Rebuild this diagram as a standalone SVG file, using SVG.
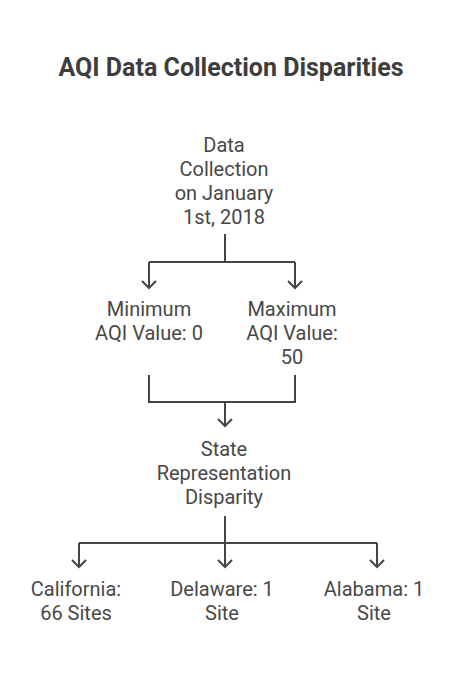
<svg xmlns="http://www.w3.org/2000/svg" width="462" height="674" viewBox="0 0 462 674">
<style>
.t{font-family:Roboto,"Liberation Sans",sans-serif;font-size:20px;fill:#484848;text-anchor:middle}
.h{font-family:Roboto,"Liberation Sans",sans-serif;font-size:25px;font-weight:bold;fill:#3d3d3d;text-anchor:middle}
.c{fill:none;stroke:#454545;stroke-width:2;stroke-linejoin:miter}
.a{fill:none;stroke:#454545;stroke-width:2}
</style>
<rect width="462" height="674" fill="#ffffff"/>
<text class="h" x="231" y="76">AQI Data Collection Disparities</text>
<g id="connectors">
<path class="c" d="M225 234V262M149 262H295M149 262V288M295 262V288"/>
<path class="a" d="M142 281L149 288L156 281M288 281L295 288L302 281"/>
<path class="c" d="M149 375V402H295V375M225 402V426"/>
<path class="a" d="M218 419L225 426L232 419"/>
<path class="c" d="M225 516V543M79 543H377M79 543V567M225 543V567M377 543V567"/>
<path class="a" d="M72 560L79 567L86 560M218 560L225 567L232 560M370 560L377 567L384 560"/>
</g>
<g id="data-collection">
<text class="t" x="224" y="152">Data</text>
<text class="t" x="224" y="176">Collection</text>
<text class="t" x="224" y="200">on January</text>
<text class="t" x="224" y="224">1st, 2018</text>
</g>
<g id="minimum">
<text class="t" x="149" y="316">Minimum</text>
<text class="t" x="149" y="340">AQI Value: 0</text>
</g>
<g id="maximum">
<text class="t" x="292" y="316">Maximum</text>
<text class="t" x="292" y="340">AQI Value:</text>
<text class="t" x="292" y="364">50</text>
</g>
<g id="state">
<text class="t" x="224" y="456">State</text>
<text class="t" x="224" y="480">Representation</text>
<text class="t" x="224" y="504">Disparity</text>
</g>
<g id="california">
<text class="t" x="76" y="596">California:</text>
<text class="t" x="76" y="620">66 Sites</text>
</g>
<g id="delaware">
<text class="t" x="222" y="596">Delaware: 1</text>
<text class="t" x="222" y="620">Site</text>
</g>
<g id="alabama">
<text class="t" x="374" y="596">Alabama: 1</text>
<text class="t" x="374" y="620">Site</text>
</g>
</svg>
